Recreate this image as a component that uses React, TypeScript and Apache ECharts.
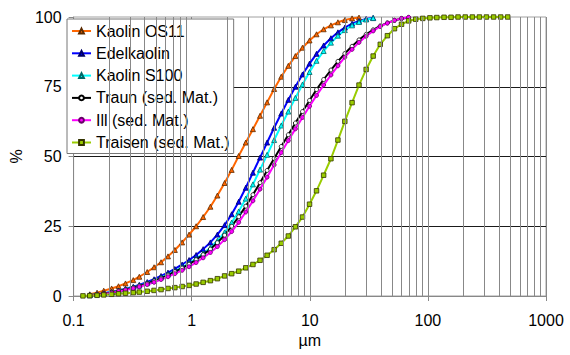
import React, { useEffect, useRef } from "react";
import * as echarts from "echarts";

// particle sizes (µm) of the measurement channels
const SIZES = [
  0.12, 0.137, 0.158, 0.18, 0.21, 0.24, 0.275, 0.32, 0.36, 0.42,
  0.48, 0.55, 0.63, 0.72, 0.83, 0.95, 1.09, 1.25, 1.44, 1.65,
  1.9, 2.18, 2.5, 2.87, 3.3, 3.79, 4.35, 4.99, 5.73, 6.58,
  7.55, 8.67, 9.95, 11.4, 13.1, 15.1, 17.3, 19.8, 22.8, 26.1,
  30.0, 34.4, 39.5, 45.4, 52.1, 59.8, 68.7, 78.8, 90.5, 104,
  119, 137, 157, 180, 207, 238, 273, 313, 360, 413, 474,
];

// cumulative passing (%) — each list starts at SIZES[1] unless noted
const KAOLIN_OS11 = [
  0.6, 1.2, 1.9, 2.7, 3.5, 4.5, 5.7, 6.9, 8.6, 10.3,
  12.1, 14.2, 16.5, 19.2, 22.0, 25.0, 28.3, 32.0, 36.0, 40.5,
  45.2, 50.2, 55.0, 59.8, 64.6, 69.4, 74.2, 78.6, 82.5, 86.0,
  89.0, 91.6, 93.8, 95.6, 97.0, 98.1, 98.9, 99.5, 99.8,
];
const EDELKAOLIN = [
  0.3, 0.6, 1.0, 1.5, 2.0, 2.6, 3.3, 4.0, 5.0, 6.0,
  7.2, 8.4, 9.7, 11.3, 12.9, 14.7, 16.8, 19.2, 22.0, 25.4,
  29.3, 33.8, 38.8, 44.2, 49.6, 55.0, 60.3, 65.4, 70.3, 75.0,
  79.4, 83.3, 86.8, 89.8, 92.4, 94.5, 96.2, 97.6, 98.6, 99.3, 99.7,
];
const KAOLIN_S100 = [
  0.3, 0.6, 0.9, 1.4, 1.9, 2.4, 3.1, 3.7, 4.6, 5.5,
  6.6, 7.7, 8.9, 10.3, 11.8, 13.4, 15.2, 17.3, 19.8, 22.8,
  26.3, 30.3, 34.9, 40.0, 45.3, 50.6, 55.9, 61.1, 66.1, 71.0,
  75.8, 80.3, 84.3, 87.8, 90.8, 93.3, 95.3, 97.0, 98.2, 99.1, 99.6,
];
const TRAUN = [
  0.3, 0.5, 0.8, 1.3, 1.8, 2.3, 3.0, 3.6, 4.5, 5.4,
  6.4, 7.5, 8.7, 10.0, 11.4, 13.0, 14.8, 16.8, 19.1, 21.8,
  25.0, 28.4, 32.2, 36.3, 40.6, 45.0, 49.3, 53.6, 57.8, 62.0,
  66.1, 70.1, 74.0, 77.6, 81.0, 84.1, 86.9, 89.5, 91.8, 93.8,
  95.4, 96.8, 97.9, 98.8, 99.4, 99.8,
];
const ILL = [
  0.2, 0.4, 0.7, 1.1, 1.6, 2.1, 2.7, 3.3, 4.1, 4.9,
  5.9, 6.9, 8.0, 9.2, 10.5, 12.0, 13.7, 15.6, 17.7, 20.2,
  23.1, 26.4, 30.1, 34.1, 38.3, 42.6, 47.0, 51.4, 55.7, 59.9,
  64.0, 68.0, 71.9, 75.6, 79.2, 82.5, 85.6, 88.4, 90.9, 93.1,
  95.0, 96.6, 97.8, 98.8, 99.5, 99.9,
];
// starts at SIZES[0]
const TRAISEN = [
  0.05, 0.12, 0.25, 0.4, 0.6, 0.8, 1.0, 1.2, 1.4, 1.7,
  2.0, 2.3, 2.7, 3.0, 3.4, 3.8, 4.3, 4.9, 5.5, 6.2,
  7.2, 8.0, 8.9, 10.1, 11.3, 12.8, 14.6, 16.6, 18.9, 21.5,
  24.8, 28.3, 32.9, 37.7, 43.3, 49.2, 55.9, 62.6, 69.3, 75.6,
  81.2, 86.0, 90.2, 93.3, 95.8, 97.4, 98.6, 99.2, 99.5, 99.7,
  99.8, 99.9, 99.9, 100, 100, 100, 100, 100, 100, 100, 100,
];

const X_TICK_LABELS = ["0.1", "1", "10", "100", "1000"];
const MINOR_GRID = [
  0.2, 0.3, 0.4, 0.5, 0.6, 0.7, 0.8, 0.9,
  2, 3, 4, 5, 6, 7, 8, 9,
  20, 30, 40, 50, 60, 70, 80, 90,
  200, 300, 400, 500, 600, 700, 800, 900,
];

const FONT = "'Liberation Sans', Arial, sans-serif";

const pairs = (start: number, vals: number[]) =>
  vals.map((v, i) => [SIZES[start + i], v]);

const SERIES_DEF = [
  { name: "Kaolin OS11", start: 1, data: KAOLIN_OS11, line: "#FF6600", fill: "#FF6600", border: "#5a2a00", symbol: "triangle", size: 5 },
  { name: "Edelkaolin", start: 1, data: EDELKAOLIN, line: "#0000FF", fill: "#0000FF", border: "#000066", symbol: "triangle", size: 5 },
  { name: "Kaolin S100", start: 1, data: KAOLIN_S100, line: "#00FFFF", fill: "#00FFFF", border: "#006666", symbol: "triangle", size: 5 },
  { name: "Traun (sed. Mat.)", start: 1, data: TRAUN, line: "#000000", fill: "#FFFFFF", border: "#000000", symbol: "circle", size: 4 },
  { name: "Ill (sed. Mat.)", start: 1, data: ILL, line: "#FF00FF", fill: "#FF00FF", border: "#660066", symbol: "circle", size: 4 },
  { name: "Traisen (sed. Mat.)", start: 0, data: TRAISEN, line: "#99CC00", fill: "#99CC00", border: "#333300", symbol: "rect", size: 4.5 },
];

export default function App() {
  const ref = useRef<HTMLDivElement>(null);
  useEffect(() => {
    if (!ref.current) return;
    const chart = echarts.init(ref.current, undefined, { renderer: "svg" });
    const series: any[] = [
      {
        name: "_grid",
        type: "line",
        data: [],
        silent: true,
        markLine: {
          silent: true,
          symbol: ["none", "none"],
          label: { show: false },
          lineStyle: { color: "#888888", width: 1, type: "solid" },
          emphasis: { disabled: true },
          data: MINOR_GRID.map((v) => ({ xAxis: v })),
        },
      },
      ...SERIES_DEF.map((s) => ({
        name: s.name,
        type: "line",
        data: pairs(s.start, s.data),
        symbol: s.symbol,
        symbolSize: s.size,
        showSymbol: true,
        lineStyle: { color: s.line, width: 2 },
        itemStyle: { color: s.fill, borderColor: s.border, borderWidth: 0.8 },
        emphasis: { disabled: true },
      })),
    ];
    chart.setOption({
      animation: false,
      grid: {
        left: 63,
        right: 24,
        top: 17,
        bottom: 59,
        show: true,
        borderColor: "#a0a0a0",
        borderWidth: 1,
        backgroundColor: "transparent",
      },
      legend: {
        data: SERIES_DEF.map((s) => s.name),
        orient: "vertical",
        left: 67,
        top: 19,
        padding: [4, 4, 3, 4],
        itemGap: 6.3,
        itemWidth: 19,
        itemHeight: 6,
        backgroundColor: "#ffffff",
        borderColor: "#777777",
        borderWidth: 1,
        borderRadius: 0,
        textStyle: { fontFamily: FONT, fontSize: 16, color: "#000", lineHeight: 16 },
      },
      xAxis: {
        type: "log",
        logBase: 10,
        min: 0.1,
        max: 1000,
        name: "µm",
        nameLocation: "middle",
        nameGap: 33,
        nameTextStyle: { fontFamily: FONT, fontSize: 16, color: "#000" },
        axisLine: { show: true, lineStyle: { color: "#888888", width: 1 } },
        axisTick: { show: true, inside: false, length: 5, lineStyle: { color: "#888888" } },
        axisLabel: {
          fontFamily: FONT,
          fontSize: 16,
          color: "#000",
          margin: 16,
          formatter: (v: number) => X_TICK_LABELS[Math.round(Math.log10(v)) + 1] ?? "",
        },
        splitLine: { show: true, lineStyle: { color: "#888888", width: 1 } },
      },
      yAxis: {
        type: "value",
        min: 0,
        max: 100,
        interval: 25,
        name: "%",
        nameLocation: "middle",
        nameGap: 38,
        nameRotate: 90,
        nameTextStyle: { fontFamily: FONT, fontSize: 16, color: "#000" },
        axisLine: { show: true, lineStyle: { color: "#888888", width: 1 } },
        axisTick: { show: true, inside: false, length: 5, lineStyle: { color: "#888888" } },
        axisLabel: { fontFamily: FONT, fontSize: 16, color: "#000", margin: 12 },
        splitLine: { show: true, showMaxLine: false, showMinLine: false, lineStyle: { color: "#1a1a1a", width: 1 } },
      },
      series,
    });
    return () => chart.dispose();
  }, []);
  return (
    <div
      ref={ref}
      style={{ position: "fixed", left: 0, top: 0, width: 570, height: 355, background: "#fff" }}
    />
  );
}
